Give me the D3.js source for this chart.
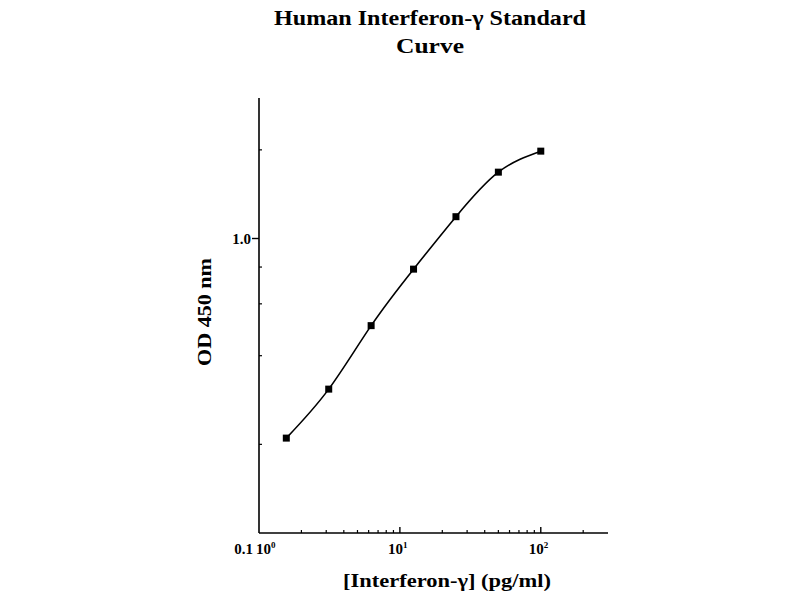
<!DOCTYPE html>
<html><head><meta charset="utf-8">
<script src="https://cdn.jsdelivr.net/npm/d3@7"></script>
<style>body{margin:0;background:#fff}svg{display:block}</style>
</head><body>
<script>
const concentrations = [1.5625, 3.125, 6.25, 12.5, 25, 50, 100];
const odValues = [0.21, 0.308, 0.506, 0.787, 1.186, 1.68, 1.98];
const xMajorTicks = [1, 10, 100];
const xTickExponents = ["0", "1", "2"];
const yMajorTicks = [0.1, 1];
const yTickLabels = ["0.1", "1.0"];
const yMinorTicks = [0.2, 0.4, 0.6, 0.8, 2];
const xMinorTicks = [2,3,4,5,6,7,8,9,20,30,40,50,60,70,80,90,200];
const titleLines = ["Human Interferon-γ Standard", "Curve"];
const xTitle = "[Interferon-γ] (pg/ml)";
const yTitle = "OD 450 nm";

const W = 800, H = 600;
const svg = d3.select("body").append("svg").attr("width", W).attr("height", H);
const font = "'Liberation Serif','Times New Roman',serif";

const x = d3.scaleLog().domain([1, 300]).range([259, 608]);
const y = d3.scaleLog().domain([0.1, 3]).range([533, 98]);

const ax = svg.append("g").attr("stroke", "#000").attr("stroke-width", 1.6);
ax.append("line").attr("x1", x(1)).attr("x2", x(300)).attr("y1", y(0.1)).attr("y2", y(0.1));
ax.append("line").attr("x1", x(1)).attr("x2", x(1)).attr("y1", y(0.1)).attr("y2", y(3));

ax.selectAll(".xm").data(xMinorTicks).join("line")
  .attr("x1", d => x(d)).attr("x2", d => x(d))
  .attr("y1", y(0.1)).attr("y2", y(0.1) - 3).attr("stroke-width", 1.2);
ax.selectAll(".xM").data(xMajorTicks.slice(1)).join("line")
  .attr("x1", d => x(d)).attr("x2", d => x(d))
  .attr("y1", y(0.1)).attr("y2", y(0.1) - 6).attr("stroke-width", 1.4);
ax.selectAll(".ym").data(yMinorTicks).join("line")
  .attr("x1", x(1)).attr("x2", x(1) + 3)
  .attr("y1", d => y(d)).attr("y2", d => y(d)).attr("stroke-width", 1.2);
ax.selectAll(".yM").data(yMajorTicks.slice(1)).join("line")
  .attr("x1", x(1) - 7).attr("x2", x(1))
  .attr("y1", d => y(d)).attr("y2", d => y(d)).attr("stroke-width", 1.4);

const xl = svg.append("g").attr("font-family", font).attr("font-weight", "bold").attr("font-size", 15);
xMajorTicks.forEach((t, i) => {
  const tx = xl.append("text").attr("x", i === 0 ? x(t) - 3 : x(t) - 12).attr("y", 554).attr("text-anchor", "start");
  tx.append("tspan").text("10");
  tx.append("tspan").attr("dy", -6).attr("font-size", 9).text(xTickExponents[i]);
});
yMajorTicks.forEach((t, i) => {
  svg.append("text").attr("font-family", font).attr("font-weight", "bold").attr("font-size", 15)
    .attr("x", i === 0 ? x(1) - 6 : x(1) - 8)
    .attr("y", i === 0 ? y(t) + 21 : y(t) + 5)
    .attr("text-anchor", "end").text(yTickLabels[i]);
});

const tl = svg.append("text").attr("font-family", font).attr("font-weight", "bold").attr("font-size", 20)
  .attr("text-anchor", "middle");
tl.append("tspan").attr("x", 430).attr("y", 25).attr("textLength", 312).attr("lengthAdjust", "spacingAndGlyphs").text(titleLines[0]);
tl.append("tspan").attr("x", 430).attr("y", 53).attr("textLength", 68).attr("lengthAdjust", "spacingAndGlyphs").text(titleLines[1]);
svg.append("text").attr("font-family", font).attr("font-weight", "bold").attr("font-size", 18)
  .attr("text-anchor", "middle").attr("x", 447).attr("y", 587)
  .attr("textLength", 208).attr("lengthAdjust", "spacingAndGlyphs").text(xTitle);
svg.append("text").attr("font-family", font).attr("font-weight", "bold").attr("font-size", 18)
  .attr("text-anchor", "middle").attr("transform", "translate(211,312) rotate(-90)")
  .attr("textLength", 108).attr("lengthAdjust", "spacingAndGlyphs").text(yTitle);

const pts = concentrations.map((c, i) => [x(c), y(odValues[i])]);
svg.append("path").attr("d", d3.line().curve(d3.curveNatural)(pts))
  .attr("fill", "none").attr("stroke", "#000").attr("stroke-width", 1.6);
svg.selectAll(".pt").data(pts).join("rect")
  .attr("x", d => d[0] - 3.5).attr("y", d => d[1] - 3.5).attr("width", 7).attr("height", 7).attr("fill", "#000");
</script>
</body></html>
